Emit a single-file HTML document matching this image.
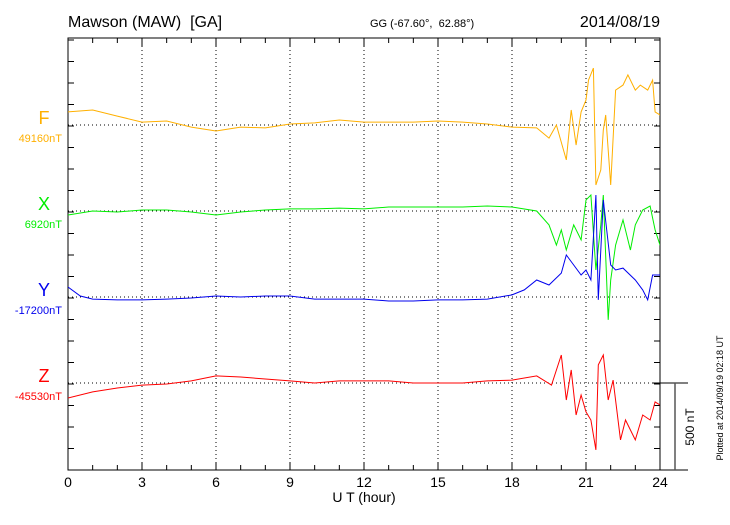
<!DOCTYPE html>
<html><head><meta charset="utf-8"><style>
body{margin:0;background:#fff}
svg text{font-family:"Liberation Sans",sans-serif}
</style></head><body>
<svg id="c" width="730" height="520" xmlns="http://www.w3.org/2000/svg">
<text x="68" y="27" font-size="16">Mawson (MAW)&#160;&#160;[GA]</text>
<text x="370" y="27" font-size="11">GG (-67.60°,&#160;&#160;62.88°)</text>
<text x="660" y="27" font-size="16" text-anchor="end">2014/08/19</text>
<text x="364" y="502" font-size="14" text-anchor="middle">U T (hour)</text>
<text transform="translate(723,398) rotate(-90)" font-size="9" text-anchor="middle">Plotted at 2014/09/19 02:18 UT</text>
<g id="g"></g>
</svg>
<script>
const fT=[0,1,2,3,4,5,6,7,8,9,10,11,12,13,14,15,16,17,18,19,19.5,19.8,20.2,20.4,20.6,20.8,21,21.1,21.3,21.4,21.6,21.7,21.8,22,22.2,22.5,22.7,23,23.2,23.5,23.7,23.8,24];
const fV=[76,87,52,17,23,-12,-35,-12,-17,6,12,29,17,17,17,23,17,6,-12,-17,-76,0,-203,87,-116,76,145,261,331,-349,-261,-29,58,-349,203,232,291,203,232,203,261,76,58];
const xT=[0,1,2,3,4,5,6,7,8,9,10,11,12,13,14,15,16,17,18,19,19.5,19.8,20,20.2,20.5,20.8,21,21.2,21.4,21.6,21.7,21.9,22,22.2,22.5,22.8,23,23.3,23.6,23.8,24];
const xV=[-23,0,-6,6,6,-6,-23,-6,6,12,12,17,12,23,23,23,23,29,23,0,-81,-198,-110,-227,-81,-168,64,93,-343,-81,93,-633,-401,-198,-52,-227,-81,6,29,-110,-198];
const yT=[0,0.5,1,2,3,4,5,6,7,8,9,10,11,12,13,14,15,16,17,18,18.5,19,19.5,20,20.2,20.5,20.8,21,21.2,21.4,21.5,21.6,21.7,22,22.2,22.5,23,23.3,23.5,23.7,24];
const yV=[58,6,-12,-17,-17,-12,-6,6,0,6,6,-12,-12,-12,-23,-23,-17,-17,-12,12,41,99,70,139,244,186,128,157,99,593,-17,273,564,186,157,168,99,41,-17,128,128];
const zT=[0,1,2,3,4,5,6,7,8,9,10,11,12,13,14,15,16,17,18,19,19.6,20,20.2,20.4,20.6,20.8,21,21.2,21.4,21.5,21.7,21.9,22.1,22.4,22.6,23,23.3,23.6,23.8,24];
const zV=[-87,-52,-29,-12,-6,12,41,35,23,12,0,12,12,12,0,0,0,12,17,41,-12,163,-99,76,-186,-70,-168,-215,-389,105,163,-99,17,-331,-215,-331,-186,-215,-110,-128];
const names=["F","X","Y","Z"];
const baseLabels=["49160nT","6920nT","-17200nT","-45530nT"];
const xTicks=[0,3,6,9,12,15,18,21,24];
const L=68,R=660,T=38,B=470,PX=86/500;
const sx=h=>L+(R-L)*h/24;
const bases=[125,211,297,383];
const colors=["#ffb000","#00ee00","#0000ee","#ff0000"];
const g=document.getElementById('g');
const NS="http://www.w3.org/2000/svg";
function el(t,a){const e=document.createElementNS(NS,t);for(const k in a)e.setAttribute(k,a[k]);g.appendChild(e);return e;}
const defs=el('clipPath',{id:'cp'});const cr=document.createElementNS(NS,'rect');
cr.setAttribute('x',L);cr.setAttribute('y',T);cr.setAttribute('width',R-L);cr.setAttribute('height',B-T);defs.appendChild(cr);
xTicks.forEach(h=>{if(h>0&&h<24){const e=el('line',{x1:sx(h),x2:sx(h),y1:T,y2:B,stroke:'#000','stroke-width':1,'stroke-dasharray':'1,3'});

}});
bases.forEach(b=>{const e=el('line',{x1:L,x2:R,y1:b,y2:b,stroke:'#000','stroke-width':1,'stroke-dasharray':'1,3'});

});
const fr=el('rect',{x:L,y:T,width:R-L,height:B-T,fill:'none',stroke:'#000','stroke-width':1});


for(let h=0;h<=24;h++){const len=h%3==0?8:5;
el('line',{x1:sx(h),x2:sx(h),y1:B,y2:B-len,stroke:'#000'});el('line',{x1:sx(h),x2:sx(h),y1:T,y2:T+len,stroke:'#000'});}
for(let y=B;y>=T;y-=21.5){el('line',{x1:L,x2:L+6,y1:y,y2:y,stroke:'#000'});el('line',{x1:R,x2:R-6,y1:y,y2:y,stroke:'#000'});}
xTicks.forEach(h=>{const t=el('text',{x:sx(h),y:487,'font-size':14,'text-anchor':'middle'});t.textContent=h;

});
[[fT,fV],[xT,xV],[yT,yV],[zT,zV]].forEach((s,i)=>{
const d=s[0].map((h,j)=>(j?'L':'M')+sx(h).toFixed(1)+','+(bases[i]-s[1][j]*PX).toFixed(1)).join('');
const p=el('path',{d:d,fill:'none',stroke:colors[i],'stroke-width':1,'clip-path':'url(#cp)'});


const n=el('text',{x:44,y:bases[i]-1,'font-size':18,'text-anchor':'middle',fill:colors[i]});n.textContent=names[i];


const b=el('text',{x:62,y:bases[i]+17,'font-size':11,'text-anchor':'end',fill:colors[i]});b.textContent=baseLabels[i];


});
el('line',{x1:652,x2:688,y1:383,y2:383,stroke:'#000'});
el('line',{x1:660,x2:688,y1:470,y2:470,stroke:'#000'});
const sb=el('line',{x1:675,x2:675,y1:383,y2:470,stroke:'#555','stroke-width':1.5});


const st=el('text',{transform:'translate(694,427) rotate(-90)','font-size':12,'text-anchor':'middle'});st.textContent='500 nT';


</script>
</body></html>
